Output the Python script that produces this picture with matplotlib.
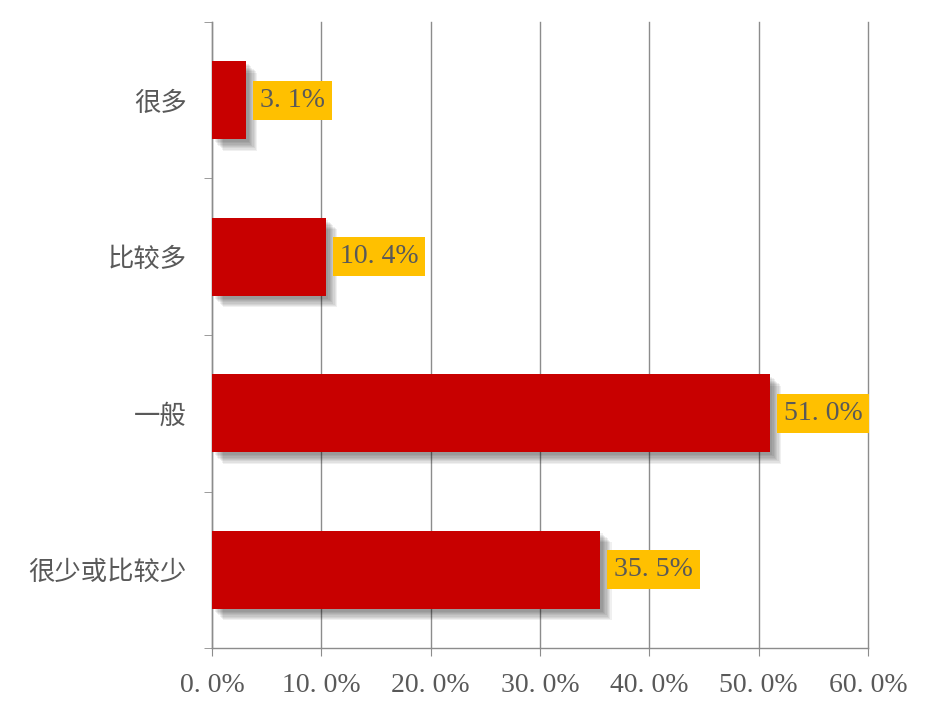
import matplotlib
matplotlib.use("Agg")
import matplotlib.pyplot as plt
import matplotlib.patheffects as pe

categories = ["很多", "比较多", "一般", "很少或比较少"]
values = [3.1, 10.4, 51.0, 35.5]
xticks = [0, 10, 20, 30, 40, 50, 60]
xtick_labels = ["0. 0%", "10. 0%", "20. 0%", "30. 0%", "40. 0%", "50. 0%", "60. 0%"]

bar_color = "#C80000"
label_bg = "#FFC000"
text_color = "#595959"
grid_color = "#8C8C8C"
num_font = ["Liberation Serif", "DejaVu Serif"]

fig = plt.figure(figsize=(9.28, 7.09), dpi=100)
ax = fig.add_axes([0.2284, 0.086, 0.7069, 0.883])

ypos = list(range(len(categories)))[::-1]
ax.set_xlim(0, 60)
ax.set_ylim(-0.5, len(categories) - 0.5)

ax.set_axisbelow(True)
ax.xaxis.grid(True, color=grid_color, linewidth=1.0)
for gl in ax.get_xgridlines():
    gl.set_clip_on(False)

shadow = []
for i in range(8):
    shadow.append(pe.SimplePatchShadow(offset=(2 + i * 0.9, -(2 + i * 0.9)),
                                       shadow_rgbFace="#000000", alpha=0.06))
shadow.append(pe.Normal())

bars = ax.barh(ypos, values, height=0.5, color=bar_color, zorder=3)
for b in bars:
    b.set_path_effects(shadow)

for y, v in zip(ypos, values):
    s = f"{v:.1f}%".replace(".", ". ")
    ax.text(v + 1.3, y, s, va="center", ha="left",
            fontsize=20, color=text_color, family=num_font, zorder=5,
            bbox=dict(boxstyle="square,pad=0.25", facecolor=label_bg, edgecolor="none"))

ax.set_xticks(xticks)
ax.set_xticklabels(xtick_labels, fontsize=20, color=text_color, family=num_font)
ax.set_yticks(ypos)
ax.set_yticklabels(categories, fontsize=19, color=text_color,
                   family=["Noto Sans CJK SC", "DejaVu Sans"])
ax.tick_params(axis="y", length=0, pad=18)
ax.tick_params(axis="x", length=6, color=grid_color, pad=12)

bounds = [i - 0.5 for i in range(len(categories) + 1)]
ax.set_yticks(bounds, minor=True)
ax.tick_params(axis="y", which="minor", length=6, color=grid_color)

for s in ["top", "right"]:
    ax.spines[s].set_visible(False)
for s in ["left", "bottom"]:
    ax.spines[s].set_color(grid_color)
    ax.spines[s].set_linewidth(1.0)

fig.savefig("out.png", dpi=100, facecolor="white")
